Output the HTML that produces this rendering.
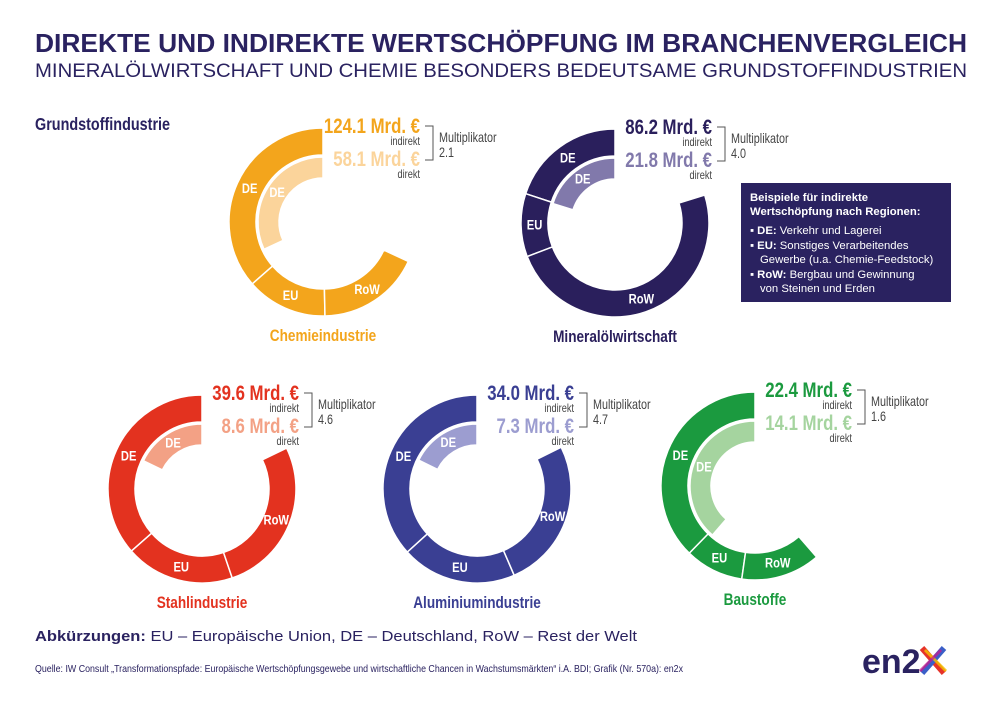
<!DOCTYPE html>
<html><head><meta charset="utf-8">
<style>
html,body{margin:0;padding:0;background:#fff;}
svg{display:block;}
.n{font-family:"Liberation Sans Narrow","Liberation Sans",sans-serif;}
.s{font-family:"Liberation Sans",sans-serif;}
</style></head>
<body>
<svg id="page" width="1000" height="707" viewBox="0 0 1000 707" xmlns="http://www.w3.org/2000/svg">
<rect width="1000" height="707" fill="#fff"/>
<text x="35" y="52" class="s" font-weight="bold" font-size="26" fill="#2a2260" textLength="932" lengthAdjust="spacingAndGlyphs">DIREKTE UND INDIREKTE WERTSCHÖPFUNG IM BRANCHENVERGLEICH</text>
<text x="35" y="77" class="s" font-size="19.5" fill="#2a2260" textLength="932" lengthAdjust="spacingAndGlyphs">MINERALÖLWIRTSCHAFT UND CHEMIE BESONDERS BEDEUTSAME GRUNDSTOFFINDUSTRIEN</text>
<text x="35" y="130" class="n" font-weight="bold" font-size="18" fill="#2a2260">Grundstoffindustrie</text>

<g>
<rect x="741" y="183" width="210" height="119" fill="#2a2260"/>
<g class="s" font-size="11.3" fill="#fff">
<text x="750" y="201" font-weight="bold">Beispiele für indirekte</text>
<text x="750" y="215" font-weight="bold">Wertschöpfung nach Regionen:</text>
<text x="750" y="234">▪ <tspan font-weight="bold">DE:</tspan> Verkehr und Lagerei</text>
<text x="750" y="249">▪ <tspan font-weight="bold">EU:</tspan> Sonstiges Verarbeitendes</text>
<text x="760" y="263">Gewerbe (u.a. Chemie-Feedstock)</text>
<text x="750" y="278">▪ <tspan font-weight="bold">RoW:</tspan>  Bergbau und Gewinnung</text>
<text x="760" y="292">von Steinen und Erden</text>
</g></g>

<text x="35" y="641" class="s" font-size="15" fill="#2a2260" textLength="602" lengthAdjust="spacingAndGlyphs"><tspan font-weight="bold">Abkürzungen:</tspan> EU – Europäische Union, DE – Deutschland, RoW – Rest der Welt</text>
<text x="35" y="672" class="s" font-size="10.5" fill="#2a2260" textLength="648" lengthAdjust="spacingAndGlyphs">Quelle: IW Consult „Transformationspfade: Europäische Wertschöpfungsgewebe und wirtschaftliche Chancen in Wachstumsmärkten“ i.A. BDI; Grafik (Nr. 570a): en2x</text>

<g>
<text x="862" y="673" class="s" font-weight="bold" font-size="34" fill="#2a2260">en2</text>
<line x1="922" y1="648" x2="944" y2="673" stroke="#e6332a" stroke-width="6"/>
<line x1="944" y1="648" x2="922" y2="673" stroke="#3a5fc8" stroke-width="6"/>
<line x1="925" y1="650" x2="946" y2="671" stroke="#f5c400" stroke-width="3" opacity="0.8"/>
<line x1="941" y1="650" x2="920" y2="671" stroke="#d1178a" stroke-width="3" opacity="0.7"/>
</g>
<g id="charts"></g>
</svg>
<script>
// Data per donut (Mrd. €)
const names = ["Chemieindustrie","Mineralölwirtschaft","Stahlindustrie","Aluminiumindustrie","Baustoffe"];
const indirect = [124.1, 86.2, 39.6, 34.0, 22.4];
const direct = [58.1, 21.8, 8.6, 7.3, 14.1];
const multiplier = ["2.1","4.0","4.6","4.7","1.6"];
const shareDE = [0.535, 0.25, 0.444, 0.446, 0.614];
const shareEU = [0.204, 0.136, 0.228, 0.240, 0.164];
const shareRoW = [0.261, 0.614, 0.328, 0.314, 0.222];

const centers = [[323,222],[615,223],[202,489],[477,489],[755,486]];
const darkCol = ["#f3a51c","#2a1f5c","#e3321f","#3a3f93","#1b9a3f"];
const lightCol = ["#fbd49b","#8179ab","#f3a185","#9c9dd0","#a5d49f"];
const valueCol = ["#f3a51c","#2a1f5c","#e3321f","#3a3f93","#1b9a3f"];

const NS = "http://www.w3.org/2000/svg";
const root = document.getElementById('charts');
const R_OUT1 = 94, R_OUT0 = 67, R_IN1 = 65, R_IN0 = 44;

function pt(cx, cy, a, r){ const t = a*Math.PI/180; return [cx - r*Math.sin(t), cy - r*Math.cos(t)]; }
function sector(cx, cy, a0, a1, r0, r1){
  const p1 = pt(cx,cy,a0,r1), p2 = pt(cx,cy,a1,r1), p3 = pt(cx,cy,a1,r0), p4 = pt(cx,cy,a0,r0);
  const large = (a1-a0) > 180 ? 1 : 0;
  return `M${p1[0]},${p1[1]} A${r1},${r1} 0 ${large} 0 ${p2[0]},${p2[1]} L${p3[0]},${p3[1]} A${r0},${r0} 0 ${large} 1 ${p4[0]},${p4[1]} Z`;
}
function mk(tag, attrs, parent){
  const e = document.createElementNS(NS, tag);
  for (const k in attrs) e.setAttribute(k, attrs[k]);
  parent.appendChild(e); return e;
}

names.forEach((nm, i) => {
  const [cx, cy] = centers[i];
  const g = mk('g', {}, root);
  
  
  const total = indirect[i] + direct[i];
  const outerSweep = 360 * indirect[i] / total;
  const innerSweep = 360 * direct[i] / total;
  const shares = [shareDE[i], shareEU[i], shareRoW[i]];
  const labels = ["DE","EU","RoW"];
  let a = 0;
  shares.forEach((s, j) => {
    const a1 = a + s * outerSweep;
    const p = mk('path', {d: sector(cx,cy,a,a1,R_OUT0,R_OUT1), fill: darkCol[i], stroke: '#fff', 'stroke-width': 1.5}, g);
    
    
    const m = pt(cx, cy, (a + a1)/2, (R_OUT0 + R_OUT1)/2);
    const t = mk('text', {x: m[0], y: m[1] + 4.5, 'text-anchor': 'middle', 'font-size': 14, 'font-weight': 'bold', fill: '#fff', class: 'n'}, g);
    t.textContent = labels[j];
    
    
    a = a1;
  });
  const ip = mk('path', {d: sector(cx,cy,0,innerSweep,R_IN0,R_IN1), fill: lightCol[i], stroke: '#fff', 'stroke-width': 1.5}, g);
  
  
  const im = pt(cx, cy, innerSweep/2, (R_IN0 + R_IN1)/2);
  const it = mk('text', {x: im[0], y: im[1] + 4.5, 'text-anchor': 'middle', 'font-size': 14, 'font-weight': 'bold', fill: '#fff', class: 'n'}, g);
  it.textContent = 'DE';
  
  

  const rx = cx + 97;
  const v1 = mk('text', {x: rx, y: cy - 89, 'text-anchor': 'end', 'font-size': 21, 'font-weight': 'bold', fill: valueCol[i], class: 'n'}, g);
  v1.textContent = indirect[i].toFixed(1) + ' Mrd. €';
  
  
  const l1 = mk('text', {x: rx, y: cy - 77, 'text-anchor': 'end', 'font-size': 11.5, fill: '#444', class: 'n'}, g);
  l1.textContent = 'indirekt';
  
  
  const v2 = mk('text', {x: rx, y: cy - 56, 'text-anchor': 'end', 'font-size': 21, 'font-weight': 'bold', fill: lightCol[i], class: 'n'}, g);
  v2.textContent = direct[i].toFixed(1) + ' Mrd. €';
  
  
  const l2 = mk('text', {x: rx, y: cy - 44, 'text-anchor': 'end', 'font-size': 11.5, fill: '#444', class: 'n'}, g);
  l2.textContent = 'direkt';
  
  
  const br = mk('path', {d: `M${rx+5},${cy-96} H${rx+13} V${cy-62} H${rx+5}`, fill: 'none', stroke: '#555', 'stroke-width': 1}, g);
  
  
  const mt = mk('text', {x: rx + 19, y: cy - 80, 'font-size': 13.5, fill: '#444', class: 'n'}, g);
  mt.textContent = 'Multiplikator';
  
  
  const mv = mk('text', {x: rx + 19, y: cy - 65, 'font-size': 13.5, fill: '#444', class: 'n'}, g);
  mv.textContent = multiplier[i];
  
  
  const tt = mk('text', {x: cx, y: cy + 119, 'text-anchor': 'middle', 'font-size': 17, 'font-weight': 'bold', fill: darkCol[i], class: 'n'}, g);
  tt.textContent = nm;
  
  
});

// emulate a condensed face by horizontal scaling
document.querySelectorAll('text.n').forEach(t => {
  const x = parseFloat(t.getAttribute('x')), y = parseFloat(t.getAttribute('y'));
  t.setAttribute('x', 0); t.setAttribute('y', 0);
  t.setAttribute('transform', `translate(${x},${y}) scale(0.8,1)`);
});
</script>
</body></html>
